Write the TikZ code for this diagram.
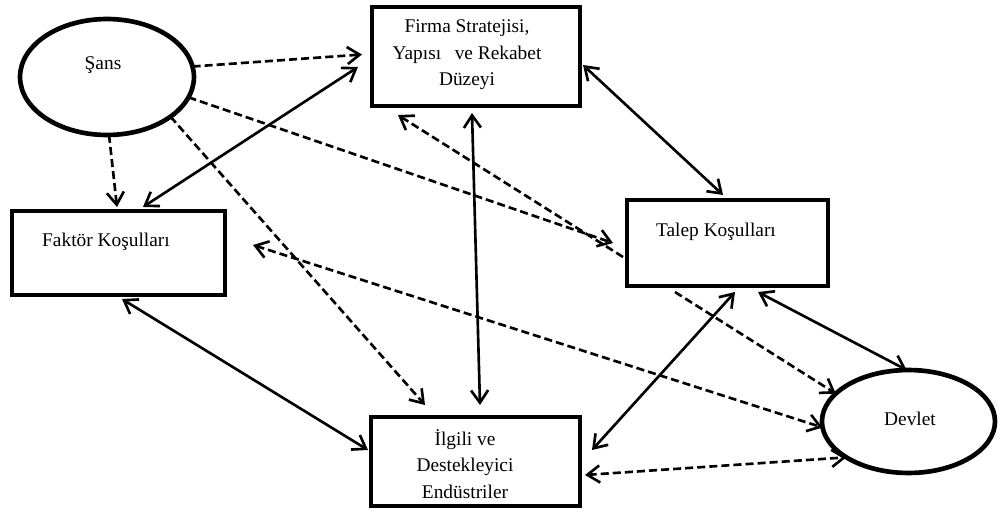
\documentclass[tikz,border=0pt]{standalone}
\usepackage{fontspec}
\setmainfont{Liberation Serif}
\usetikzlibrary{arrows.meta,shapes.geometric,calc}
\begin{document}
\begin{tikzpicture}[x=0.645pt,y=-0.645pt,
  >={Straight Barb[length=8pt,width=11pt]},
  box/.style={draw,line width=3pt,rectangle,inner sep=0pt,outer sep=0pt},
  oval/.style={draw,line width=3pt,ellipse,inner sep=0pt,outer sep=0pt},
  lbl/.style={font=\fontsize{12.5}{17}\selectfont,align=center,inner sep=0pt},
  conn/.style={line width=1.7pt},
  dsh/.style={conn,dash pattern=on 5.2pt off 2.6pt}]
\useasboundingbox (0,0) rectangle (1001,513);
% shapes
\node[oval,minimum width=112.2pt,minimum height=74.8pt] (sans) at (107,77) {};
\node[box,minimum width=134.2pt,minimum height=63.9pt] (firma) at (476,56.5) {};
\node[box,minimum width=137.4pt,minimum height=54.2pt] (faktor) at (118.5,253) {};
\node[box,minimum width=129.6pt,minimum height=55.5pt] (talep) at (727.5,243) {};
\node[box,minimum width=134.8pt,minimum height=57.4pt] (ilgili) at (475.5,461.5) {};
\node[oval,minimum width=111.6pt,minimum height=66.4pt] (devlet) at (908.5,421.5) {};
% texts
\node[lbl] (sanst) at (103,65) {Şans};
\node[lbl] (firmat) at (467,55) {Firma Stratejisi,\\ Yapısı\hspace{0.7em}ve Rekabet\\ Düzeyi};
\node[lbl] (faktort) at (106,242) {Faktör Koşulları};
\node[lbl] (talept) at (716,232) {Talep Koşulları};
\node[lbl] (ilgilit) at (465,464) {İlgili ve\\ Destekleyici\\ Endüstriler};
\node[lbl] (devlett) at (910,419) {Devlet};
% connectors
\draw[dsh,->] (sans.7) -- ($(firma.west)+(-10,-2)$);
\draw[conn,<->] ($(faktor.north)+(24.5,-4)$) -- ($(firma.west)+(-14,10.5)$);
\draw[dsh,->] (sans.-88) -- ($(faktor.north)+(-1.5,-4)$);
\draw[dsh,->] (sans.-32) -- ($(ilgili.north)+(-50.5,-12)$);
\draw[dsh,->] (sans.-14) -- ($(talep.west)+(-14,0)$);
\draw[dsh,->] ($(talep.west)+(-4,14)$) -- ($(firma.south west)+(26,9)$);
\draw[conn,<->] ($(firma.east)+(3,8.5)$) -- ($(talep.north)+(-4.5,-5)$);
\draw[conn,<->] ($(firma.south)+(-4,7)$) -- ($(ilgili.north)+(4.5,-12)$);
\draw[conn,<->] ($(faktor.south)+(3.5,4)$) -- ($(ilgili.west)+(-3,-11.5)$);
\draw[dsh,<->] ($(faktor.east)+(28,-8)$) -- (devlet.184);
\draw[dsh,->] ($(talep.south)+(-52.5,6)$) -- (devlet.159);
\draw[conn,<->] ($(talep.south)+(30.5,6)$) -- (devlet.92);
\draw[conn,<->] ($(talep.south)+(7.5,6)$) -- ($(ilgili.east)+(12,-11.5)$);
\draw[dsh,<->] ($(ilgili.east)+(5,13.5)$) -- (devlet.210);
\end{tikzpicture}
\end{document}
